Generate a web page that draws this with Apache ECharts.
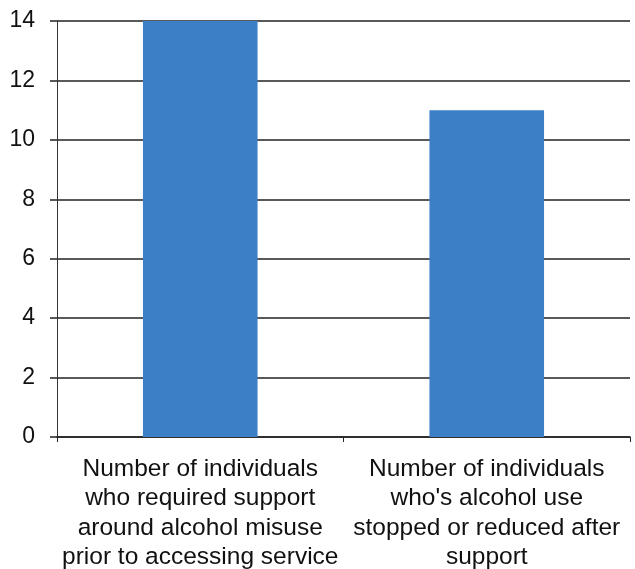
<!DOCTYPE html>
<html>
<head>
<meta charset="utf-8">
<script src="https://cdn.jsdelivr.net/npm/echarts@6/dist/echarts.min.js"></script>
<style>
html, body { margin: 0; padding: 0; background: #fff; }
#count_01 { width: 635px; height: 569px; }
</style>
</head>
<body>
<div id="count_01"></div>
<script>
var categories = [
	'Number of individuals\nwho required support\naround alcohol misuse\nprior to accessing service',
	"Number of individuals\nwho's alcohol use\nstopped or reduced after\nsupport"
];
var values = [14, 11];
var yTicks = [0, 2, 4, 6, 8, 10, 12, 14];

var dom_01 = document.getElementById("count_01");
var myChart_01 = echarts.init(dom_01);
option_01 = {
	animation: false,
	grid: {
		top: 21,
		left: 57,
		right: 5,
		bottom: 132,
		containLabel: false,
		outerBoundsMode: 'none'
	},
	xAxis: {
		type: 'category',
		data: categories,
		axisLine: {
			show: true,
			lineStyle: { color: '#222', width: 1.5 }
		},
		axisTick: {
			show: true,
			length: 5,
			lineStyle: { color: '#222' }
		},
		axisLabel: {
			interval: 0,
			color: '#111',
			fontFamily: 'Liberation Sans, Arial, sans-serif',
			fontSize: 24.5,
			lineHeight: 29.5,
			margin: 17,
			align: 'center'
		}
	},
	yAxis: {
		type: 'value',
		min: 0,
		max: yTicks[yTicks.length - 1],
		interval: 2,
		axisLine: {
			show: true,
			lineStyle: { color: '#333', width: 1 }
		},
		axisTick: {
			show: true,
			length: 7,
			lineStyle: { color: '#222', width: 1.5 }
		},
		splitLine: {
			lineStyle: { color: '#222', width: 1.5 }
		},
		axisLabel: {
			color: '#111',
			fontFamily: 'Liberation Sans, Arial, sans-serif',
			fontSize: 23,
			margin: 22
		}
	},
	series: [
		{
			type: 'bar',
			data: values,
			barWidth: '40%',
			itemStyle: { color: '#3c7fc6' },
			z: 3
		}
	]
};
myChart_01.setOption(option_01, true);
</script>
</body>
</html>
